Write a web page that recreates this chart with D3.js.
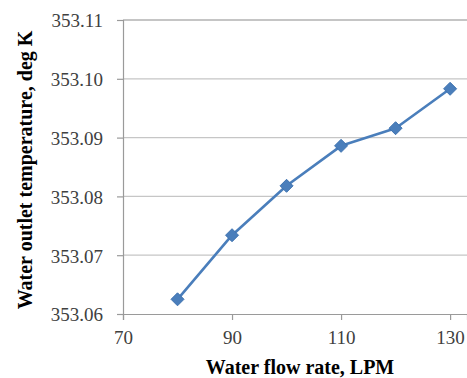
<!DOCTYPE html>
<html>
<head>
<meta charset="utf-8">
<script src="https://cdn.jsdelivr.net/npm/d3@7"></script>
<style>
  html, body { margin: 0; padding: 0; background: #fff; }
  svg { display: block; }
  .tick text { font-family: "Liberation Serif", "Times New Roman", serif; }
</style>
</head>
<body>
<svg id="chart" width="467" height="378"></svg>
<script>
// Water outlet temperature vs. water flow rate
const flowRate = [80, 90, 100, 110, 120, 130];
const outletTemp = [353.0625, 353.0734, 353.0818, 353.0886, 353.0916, 353.0983];
const xTicks = [70, 90, 110, 130];
const yTicks = [353.06, 353.07, 353.08, 353.09, 353.10, 353.11];

const serif = "'Liberation Serif', 'Times New Roman', serif";
const svg = d3.select("#chart");
const plotLeft = 123, plotRight = 467, plotTop = 20, plotBottom = 314;

const x = d3.scaleLinear().domain([70, 133.1]).range([plotLeft, plotRight]);
const y = d3.scaleLinear().domain([353.06, 353.11]).range([plotBottom, plotTop]);

// horizontal gridlines
svg.append("g")
  .selectAll("line")
  .data(yTicks.slice(1))
  .join("line")
  .attr("x1", plotLeft).attr("x2", plotRight)
  .attr("y1", d => y(d)).attr("y2", d => y(d))
  .attr("stroke", d => d === 353.11 ? "#8c8c8c" : "#c6c6c6")
  .attr("stroke-width", 1.2);

// y axis
const yAxis = svg.append("g")
  .attr("transform", `translate(${plotLeft},0)`)
  .call(d3.axisLeft(y).tickValues(yTicks).tickFormat(d3.format(".2f")).tickSize(6).tickPadding(14));
yAxis.select(".domain").attr("stroke", "#9a9a9a").attr("stroke-width", 1.2);
yAxis.selectAll(".tick line").attr("stroke", "#9a9a9a").attr("stroke-width", 1.2);
yAxis.selectAll("text")
  .style("font-family", serif)
  .attr("dy", "0.36em")
  .style("font-size", "19px").attr("fill", "#404040");

// x axis
const xAxis = svg.append("g")
  .attr("transform", `translate(0,${plotBottom})`)
  .call(d3.axisBottom(x).tickValues(xTicks).tickSize(6).tickPadding(11));
xAxis.select(".domain").attr("stroke", "#9a9a9a").attr("stroke-width", 1.2);
xAxis.selectAll(".tick line").attr("stroke", "#9a9a9a").attr("stroke-width", 1.2);
xAxis.selectAll("text")
  .style("font-family", serif)
  .style("font-size", "19px").attr("fill", "#404040");

// series line
const pts = flowRate.map((f, i) => [f, outletTemp[i]]);
svg.append("path")
  .datum(pts)
  .attr("fill", "none")
  .attr("stroke", "#4a7ebb")
  .attr("stroke-width", 2.6)
  .attr("stroke-linejoin", "round")
  .attr("d", d3.line().x(d => x(d[0])).y(d => y(d[1])));

// diamond markers
svg.append("g")
  .selectAll("path")
  .data(pts)
  .join("path")
  .attr("transform", d => `translate(${x(d[0])},${y(d[1])})`)
  .attr("d", "M0,-6.5L6.5,0L0,6.5L-6.5,0Z")
  .attr("fill", "#4a7ebb")
  .attr("stroke", "#3f73b0")
  .attr("stroke-width", 1);

// axis titles
svg.append("text")
  .attr("x", 300).attr("y", 374)
  .attr("text-anchor", "middle")
  .style("font-family", serif)
  .attr("font-weight", "bold").style("font-size", "20px").attr("fill", "#000")
  .text("Water flow rate, LPM");

svg.append("text")
  .attr("transform", "translate(32,170) rotate(-90)")
  .attr("text-anchor", "middle")
  .style("font-family", serif)
  .attr("font-weight", "bold").style("font-size", "20px").attr("fill", "#000")
  .text("Water outlet temperature, deg K");
</script>
</body>
</html>
